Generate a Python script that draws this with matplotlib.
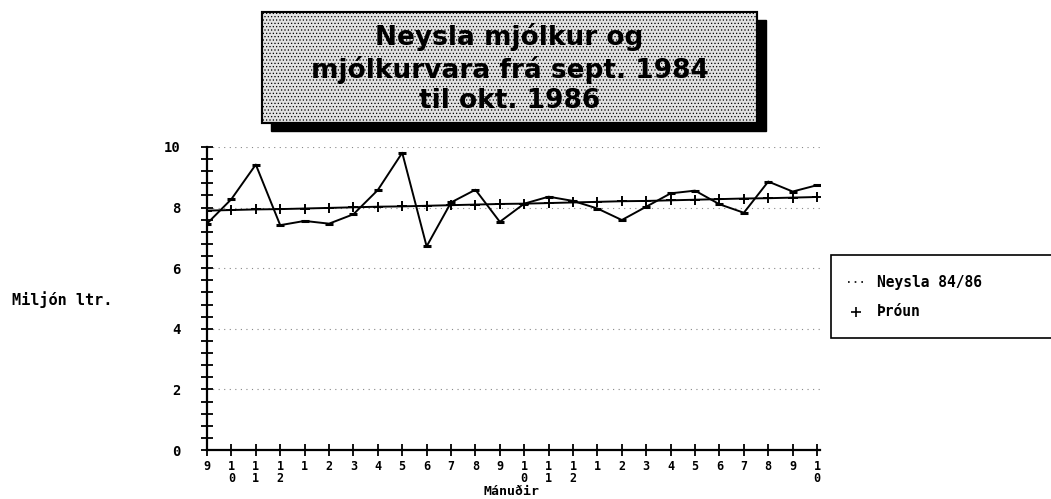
import matplotlib
matplotlib.use('Agg')
import matplotlib.pyplot as plt
from matplotlib.patches import Rectangle
from matplotlib.lines import Line2D
from matplotlib.ticker import MultipleLocator, FixedLocator

# ---- data ----
months = ['9', '1\n0', '1\n1', '1\n2', '1', '2', '3', '4', '5', '6', '7', '8',
          '9', '1\n0', '1\n1', '1\n2', '1', '2', '3', '4', '5', '6', '7', '8',
          '9', '1\n0']
neysla = [7.47, 8.28, 9.42, 7.42, 7.56, 7.47, 7.78, 8.58, 9.81, 6.72, 8.17, 8.59,
          7.53, 8.13, 8.36, 8.22, 7.97, 7.59, 8.03, 8.47, 8.56, 8.11, 7.83, 8.86,
          8.53, 8.74]
throun = [7.90, 7.92, 7.94, 7.95, 7.97, 7.99, 8.01, 8.03, 8.04, 8.06, 8.08, 8.10,
          8.12, 8.13, 8.15, 8.17, 8.19, 8.21, 8.22, 8.24, 8.26, 8.28, 8.30, 8.31,
          8.33, 8.35]
yticks = [0, 2, 4, 6, 8, 10]
title_text = "Neysla mjólkur og\nmjólkurvara frá sept. 1984\ntil okt. 1986"
series_names = ["Neysla 84/86", "Þróun"]
ylabel = "Miljón ltr."
xlabel = "Mánuðir"

plt.rcParams['hatch.color'] = '#aaaaaa'
plt.rcParams['hatch.linewidth'] = 0.5

W, H = 1051, 499
fig = plt.figure(figsize=(W / 100, H / 100), dpi=100)
fig.patch.set_facecolor('white')

def fx(px):
    return px / W

def fy(py):
    return 1 - py / H

MONO = {'family': 'DejaVu Sans Mono', 'weight': 'bold'}

ax = fig.add_axes([fx(207), fy(450), fx(820) - fx(207), fy(147) - fy(450)])
xs = list(range(len(months)))
ax.plot(xs, neysla, color='black', lw=1.4, marker='_', ms=6, mew=2.2)
ax.plot(xs, throun, color='black', lw=1.4, marker='+', ms=7, mew=1.4)
ax.set_xlim(0, 25.12)
ax.set_ylim(0, 10)

for s in ['top', 'right']:
    ax.spines[s].set_visible(False)
for s in ['left', 'bottom']:
    ax.spines[s].set_linewidth(1.6)
    ax.spines[s].set_color('black')

ax.xaxis.set_major_locator(FixedLocator(xs))
ax.set_xticklabels(months, fontdict=MONO, fontsize=8.5, linespacing=0.95, va='top')
ax.yaxis.set_major_locator(FixedLocator(yticks))
ax.yaxis.set_minor_locator(MultipleLocator(0.4))
ax.set_yticklabels([str(v) for v in yticks], fontdict=MONO, fontsize=10)
ax.tick_params(axis='both', which='both', direction='inout', length=8, width=1.3, color='black')
ax.tick_params(axis='y', which='major', pad=15)
ax.tick_params(axis='x', which='major', pad=3)

ax.yaxis.grid(True, which='major', color='#888888', linestyle=(0, (1, 4)), lw=0.8)
ax.set_axisbelow(True)

# axis labels
fig.text(fx(512), fy(498), xlabel, ha='center', va='bottom', fontsize=9.5, **MONO)
fig.text(fx(12), fy(300), ylabel, ha='left', va='center', fontsize=11, **MONO)

# title box with shadow
bx0, by0, bx1, by1 = 262, 12, 757, 123
fig.add_artist(Rectangle((fx(bx0 + 9), fy(by1 + 8)), fx(bx1 - bx0), fy(by0) - fy(by1),
                         transform=fig.transFigure, facecolor='black', edgecolor='black', zorder=1))
fig.add_artist(Rectangle((fx(bx0), fy(by1)), fx(bx1 - bx0), fy(by0) - fy(by1),
                         transform=fig.transFigure, facecolor='#e2e2e2', edgecolor='black',
                         lw=1.5, hatch='.....', zorder=2))
fig.add_artist(Rectangle((fx(bx0), fy(by1)), fx(bx1 - bx0), fy(by0) - fy(by1),
                         transform=fig.transFigure, facecolor='none', edgecolor='black',
                         lw=1.5, zorder=2.5))
fig.text(fx((bx0 + bx1) / 2), fy((by0 + by1) / 2 + 1), title_text, ha='center', va='center',
         fontsize=19, fontweight='bold', family='DejaVu Sans', linespacing=1.2, zorder=3)

# legend
fig.add_artist(Rectangle((fx(831), fy(338)), fx(1060 - 831), fy(255) - fy(338),
                         transform=fig.transFigure, facecolor='white', edgecolor='black', lw=1.2))
fig.add_artist(Line2D([fx(848), fx(864)], [fy(282), fy(282)], transform=fig.transFigure,
                      color='black', lw=1.2, linestyle=(0, (1, 3))))
fig.add_artist(Line2D([fx(856)], [fy(312)], transform=fig.transFigure, color='black',
                      marker='+', ms=7, mew=1.2, linestyle='none'))
fig.text(fx(877), fy(282), series_names[0], ha='left', va='center', fontsize=10.5, **MONO)
fig.text(fx(877), fy(312), series_names[1], ha='left', va='center', fontsize=10.5, **MONO)

fig.savefig('out.png', dpi=100)
